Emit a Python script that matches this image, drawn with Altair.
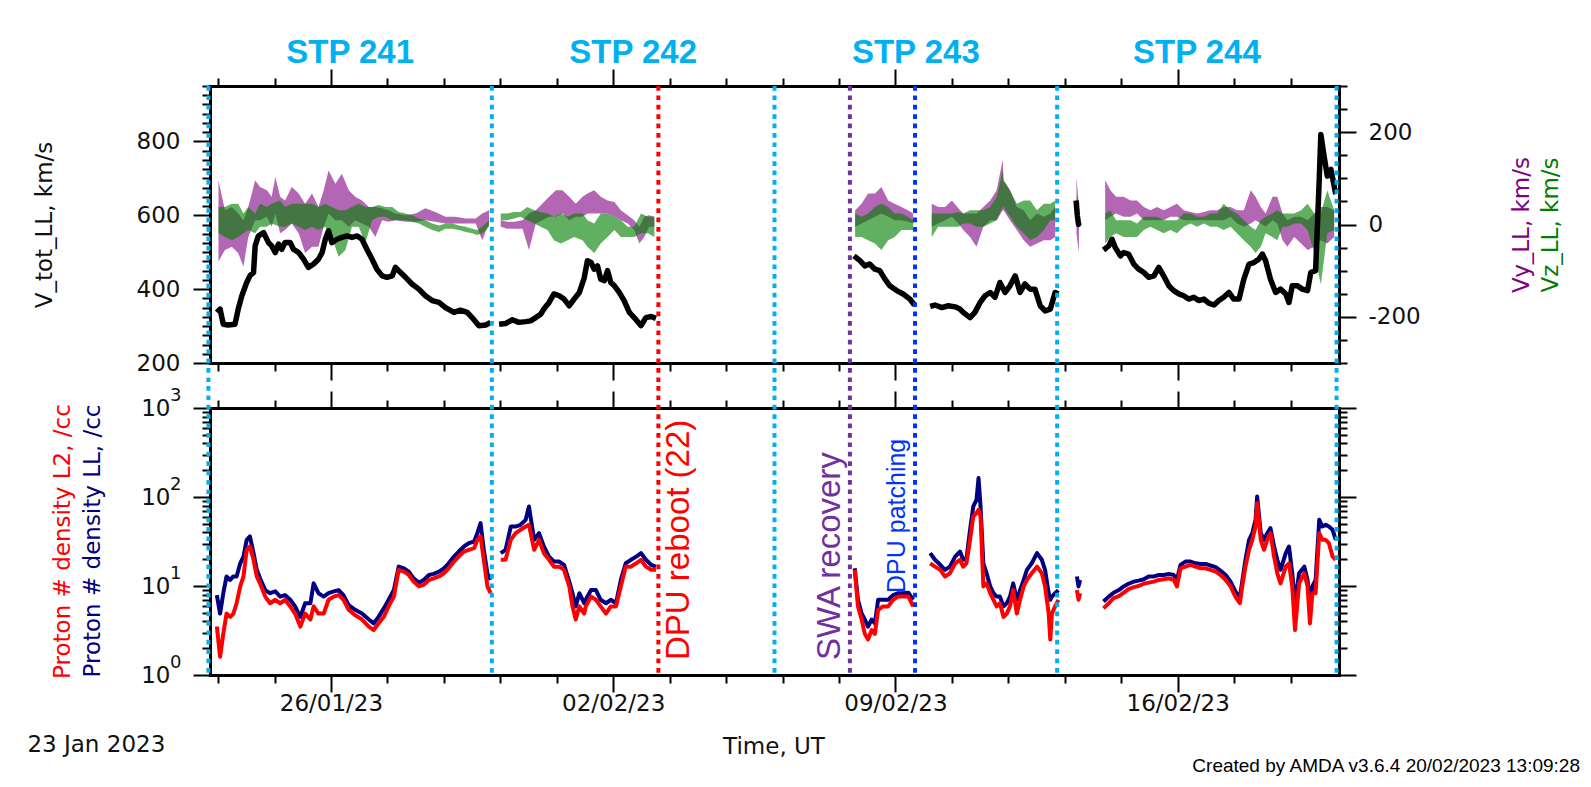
import altair as alt
import pandas as pd

# ---------------- time base ----------------
T0_MS = 1674432000000          # 2023-01-23 00:00 UT
DAY_MS = 86400000
N_DAYS = 28

# ---------------- V_tot_LL (km/s), segments of (day, value) ----------------
VTOT_A = [(0.17, 337), (0.25, 346), (0.33, 305), (0.45, 303), (0.62, 305), (0.70, 346), (0.79, 382),
          (0.91, 418), (0.99, 436), (1.08, 445), (1.12, 517), (1.20, 544), (1.33, 553), (1.45, 526),
          (1.53, 517), (1.62, 499), (1.70, 522), (1.78, 508), (1.86, 526), (1.99, 526), (2.07, 508),
          (2.20, 499), (2.32, 481), (2.44, 459), (2.57, 468), (2.69, 481), (2.78, 499), (2.86, 535),
          (2.94, 558), (3.02, 526), (3.15, 535), (3.27, 540), (3.40, 544), (3.52, 540), (3.65, 544),
          (3.77, 535), (3.89, 508), (4.02, 481), (4.14, 454), (4.27, 436), (4.39, 432), (4.52, 436),
          (4.60, 459), (4.68, 450), (4.85, 432), (5.01, 414), (5.18, 400), (5.34, 382), (5.51, 369),
          (5.68, 364), (5.84, 350), (6.05, 337), (6.21, 343), (6.38, 337), (6.50, 323), (6.67, 301),
          (6.84, 303), (6.96, 310)]
VTOT_B = [(7.17, 305), (7.33, 307), (7.50, 317), (7.66, 310), (7.83, 312), (7.95, 314), (8.08, 323),
          (8.20, 332), (8.28, 346), (8.41, 364), (8.53, 387), (8.66, 382), (8.78, 373), (8.91, 355),
          (9.03, 373), (9.16, 391), (9.28, 430), (9.36, 477), (9.45, 472), (9.53, 454), (9.61, 463),
          (9.69, 427), (9.78, 423), (9.86, 450), (9.94, 418), (10.03, 409), (10.15, 391), (10.27, 369),
          (10.40, 337), (10.52, 323), (10.69, 301), (10.81, 323), (10.94, 326), (11.06, 321)]
VTOT_C = [(15.97, 490), (16.12, 477), (16.24, 463), (16.36, 468), (16.49, 454), (16.61, 450),
          (16.74, 427), (16.86, 409), (17.03, 396), (17.19, 387), (17.36, 373), (17.47, 357)]
VTOT_D = [(17.86, 353), (17.98, 357), (18.15, 350), (18.31, 355), (18.48, 352), (18.60, 346),
          (18.68, 337), (18.85, 323), (18.97, 337), (19.10, 364), (19.22, 382), (19.35, 391),
          (19.47, 378), (19.59, 418), (19.72, 391), (19.84, 409), (19.97, 436), (20.09, 391),
          (20.21, 414), (20.34, 400), (20.46, 400), (20.59, 355), (20.71, 341), (20.84, 346),
          (20.96, 391), (21.04, 387)]
VTOT_E = [(21.48, 640), (21.51, 600), (21.54, 575), (21.56, 580)]
VTOT_F = [(22.16, 506), (22.29, 517), (22.37, 535), (22.45, 513), (22.58, 490), (22.66, 499),
          (22.78, 495), (22.91, 468), (23.03, 454), (23.16, 445), (23.28, 432), (23.41, 436),
          (23.53, 459), (23.65, 436), (23.78, 409), (23.90, 396), (24.03, 387), (24.15, 382),
          (24.27, 373), (24.40, 378), (24.52, 369), (24.65, 373), (24.77, 362), (24.90, 357),
          (25.02, 369), (25.14, 378), (25.27, 391), (25.39, 373), (25.52, 373), (25.64, 427),
          (25.77, 468), (25.89, 472), (26.01, 481), (26.10, 495), (26.18, 477), (26.30, 427),
          (26.43, 391), (26.55, 400), (26.68, 387), (26.76, 364), (26.84, 409), (26.97, 409),
          (27.09, 400), (27.22, 396), (27.30, 445), (27.42, 450), (27.51, 697), (27.55, 819),
          (27.63, 760), (27.71, 706), (27.80, 724), (27.88, 679), (27.92, 657)]
VTOT_SEGS = [VTOT_A, VTOT_B, VTOT_C, VTOT_D, VTOT_E, VTOT_F]

# ---------------- Vy_LL spread (day, low, high) km/s ----------------
VY_A = [(0.21, -80, 96), (0.37, -55, 31), (0.54, -48, 38), (0.70, -62, 24), (0.83, -91, 9), (0.95, -27, 38),
        (1.12, 9, 96), (1.24, 9, 81), (1.41, 17, 74), (1.53, -5, 60), (1.62, 24, 103), (1.74, -19, 60),
        (1.86, -12, 52), (2.03, 2, 81), (2.20, -19, 67), (2.36, -62, 45), (2.53, -48, 67), (2.69, -48, 38),
        (2.82, -5, 74), (2.94, 24, 117), (3.11, 9, 88), (3.27, 9, 110), (3.44, -5, 74), (3.60, 9, 60),
        (3.77, 2, 52), (3.94, -5, 38), (4.10, -27, 38), (4.27, 9, 35), (4.43, 6, 31), (4.60, 9, 24),
        (4.85, 6, 20), (5.10, 6, 24), (5.34, 9, 35), (5.59, 6, 27), (5.84, 2, 17), (6.09, 2, 17),
        (6.34, 2, 13), (6.59, 2, 13), (6.75, -34, 24), (6.92, 2, 31)]
VY_B = [(7.21, -5, 9), (7.37, -9, 6), (7.54, -9, 6), (7.75, -9, 9), (7.91, -55, 24), (8.08, 2, 31),
        (8.24, 9, 45), (8.41, 17, 60), (8.58, 17, 74), (8.74, 24, 74), (8.91, 9, 60), (9.07, 17, 45),
        (9.24, 17, 60), (9.36, 24, 67), (9.53, 24, 74), (9.69, 24, 60), (9.86, 24, 52), (10.03, 17, 49),
        (10.19, 9, 31), (10.36, 2, 20), (10.52, -12, 9), (10.65, -41, -5), (10.77, -27, 17),
        (10.89, -5, 20), (11.02, -5, 17)]
VY_C = [(16.00, -5, 31), (16.16, 2, 45), (16.32, 9, 67), (16.49, 17, 67), (16.65, 24, 81), (16.82, 17, 52),
        (16.98, 9, 45), (17.15, 9, 38), (17.31, 6, 31), (17.44, 2, 24)]
VY_D = [(17.90, -5, 45), (18.06, 2, 38), (18.23, 9, 38), (18.40, 17, 52), (18.56, 2, 35), (18.68, -12, 24),
        (18.85, -27, 24), (19.01, -48, 24), (19.18, -5, 38), (19.35, 9, 52), (19.51, 9, 74),
        (19.66, 31, 140), (19.68, 31, 96), (19.84, 9, 74), (20.01, -12, 38), (20.18, -34, 31),
        (20.34, -48, 9), (20.51, -41, 24), (20.68, -34, 17), (20.84, -34, 24), (20.96, -27, 38)]
VY_E = [(21.49, -20, 103), (21.55, -62, 40)]
VY_F = [(22.20, 9, 96), (22.33, 17, 74), (22.47, 24, 60), (22.66, 17, 60), (22.83, 17, 52), (22.99, 24, 52),
        (23.16, 9, 38), (23.32, 9, 31), (23.49, 9, 38), (23.65, 9, 31), (23.82, 17, 38), (23.98, 17, 45),
        (24.15, 9, 31), (24.32, 9, 27), (24.48, 9, 24), (24.65, 9, 27), (24.81, 9, 31), (24.98, 9, 31),
        (25.14, 9, 38), (25.31, 17, 38), (25.47, 2, 31), (25.64, -5, 31), (25.81, 2, 74), (25.93, 9, 60),
        (26.06, 2, 38), (26.18, -5, 24), (26.35, 9, 60), (26.47, 2, 60), (26.60, -34, 24), (26.72, -48, 9),
        (26.89, -27, 17), (27.06, -41, 17), (27.22, -55, 9), (27.39, -48, 24), (27.55, -34, 38),
        (27.71, -41, 38), (27.88, -27, 31)]
VY_SEGS = [VY_A, VY_B, VY_C, VY_D, VY_E, VY_F]

# ---------------- Vz_LL spread (day, low, high) km/s ----------------
VZ_A = [(0.21, -19, 38), (0.37, -27, 38), (0.54, -34, 45), (0.70, -27, 45), (0.83, -19, 24), (0.95, -12, 38),
        (1.12, -19, 24), (1.24, -5, 45), (1.41, -5, 38), (1.53, 2, 45), (1.74, -5, 52), (1.86, -5, 38),
        (2.03, 2, 45), (2.20, -5, 45), (2.36, -12, 45), (2.53, -5, 45), (2.69, -12, 38), (2.86, -5, 45),
        (3.02, -27, 38), (3.19, -70, 31), (3.36, -55, 31), (3.52, -5, 38), (3.69, -5, 45), (3.85, -41, 38),
        (4.02, 9, 38), (4.18, 17, 42), (4.35, 17, 38), (4.52, 9, 38), (4.68, 9, 27), (4.85, 9, 24),
        (5.01, 6, 20), (5.18, 2, 13), (5.34, -5, 9), (5.51, -12, 2), (5.68, -16, -2), (5.84, -9, 2),
        (6.01, -9, 2), (6.17, -12, -2), (6.34, -16, -5), (6.50, -19, -9), (6.63, -23, -12),
        (6.75, -19, -5), (6.92, -5, 9)]
VZ_B = [(7.21, 9, 24), (7.37, 9, 24), (7.54, 13, 27), (7.70, 17, 27), (7.87, 9, 38), (8.04, 2, 31),
        (8.20, -5, 27), (8.37, -12, 24), (8.53, -34, 17), (8.70, -41, 24), (8.87, -34, 17), (9.03, -27, 24),
        (9.24, -34, 24), (9.36, -48, 9), (9.53, -62, 2), (9.69, -41, 24), (9.86, -27, 24), (10.03, -12, 17),
        (10.19, -27, 9), (10.36, -27, -5), (10.52, -27, -5), (10.69, -19, 24), (10.86, -19, 17),
        (11.02, -27, 17)]
VZ_C = [(16.00, -27, 24), (16.16, -27, 17), (16.32, -34, 24), (16.49, -41, 38), (16.65, -55, 45),
        (16.82, -34, 38), (16.98, -27, 24), (17.15, -12, 24), (17.31, -12, 17), (17.44, -12, 9)]
VZ_D = [(17.90, -27, 24), (18.06, -5, 24), (18.23, -5, 24), (18.40, -5, 24), (18.56, -5, 27), (18.68, 2, 24),
        (18.85, 2, 31), (19.01, -5, 31), (19.18, -5, 31), (19.35, 2, 38), (19.51, 9, 60), (19.66, 38, 117),
        (19.68, 38, 96), (19.84, 17, 74), (20.01, -5, 45), (20.18, -19, 52), (20.34, -34, 52),
        (20.51, -27, 31), (20.68, -12, 45), (20.84, 9, 45), (20.96, 9, 52)]
VZ_E = [(21.49, 9, 60), (21.55, 9, 40)]
VZ_F = [(22.20, -41, 24), (22.33, -27, 31), (22.47, -19, 9), (22.66, -27, 9), (22.83, -27, 9), (22.99, -27, 2),
        (23.16, -12, 17), (23.32, -5, 17), (23.49, -12, 17), (23.65, -19, 9), (23.82, -12, 9), (23.98, -19, 9),
        (24.15, -5, 24), (24.32, 2, 24), (24.48, -5, 17), (24.65, 2, 17), (24.81, -5, 24), (24.98, -5, 24),
        (25.14, -12, 45), (25.31, -5, 31), (25.47, -19, 24), (25.64, -34, 9), (25.81, -48, -5),
        (25.93, -62, -12), (26.06, -48, 9), (26.18, -19, 17), (26.35, -27, 24), (26.47, -34, 31),
        (26.60, -5, 24), (26.72, -5, 24), (26.89, 2, 24), (27.06, 2, 31), (27.22, -12, 45), (27.39, -62, 24),
        (27.55, -130, 24), (27.71, -19, 74), (27.88, -12, 31)]
VZ_SEGS = [VZ_A, VZ_B, VZ_C, VZ_D, VZ_E, VZ_F]

# ---------------- proton density (day, L2 red, LL navy) /cc ----------------
N_A = [(0.17, 3.5, 7.9), (0.25, 1.6, 4.9), (0.33, 2.9, 8.3), (0.41, 4.9, 12.8), (0.50, 4.5, 11.7),
       (0.58, 4.9, 12.8), (0.66, 6.4, 12.8), (0.75, 9.9, 18.0), (0.83, 12.8, 21.4), (0.91, 25.5, 33.0),
       (0.99, 27.8, 36.0), (1.08, 19.7, 23.4), (1.16, 12.8, 15.2), (1.24, 10.7, 12.2), (1.37, 7.6, 9.0),
       (1.49, 6.4, 8.3), (1.62, 7.0, 8.7), (1.74, 6.4, 7.6), (1.86, 7.0, 7.9), (1.99, 5.9, 7.0),
       (2.11, 4.9, 5.9), (2.24, 3.5, 4.5), (2.36, 4.9, 6.4), (2.49, 4.2, 6.4), (2.57, 5.9, 10.7),
       (2.69, 4.9, 8.3), (2.82, 4.9, 7.6), (2.94, 7.0, 8.3), (3.07, 7.6, 8.7), (3.19, 7.9, 9.0),
       (3.31, 7.0, 7.9), (3.44, 5.4, 6.1), (3.60, 4.7, 5.4), (3.77, 4.2, 4.9), (3.94, 3.5, 4.2),
       (4.06, 3.2, 3.8), (4.18, 3.8, 4.5), (4.31, 4.5, 5.6), (4.43, 5.9, 7.0), (4.56, 7.6, 9.0),
       (4.68, 15.2, 16.5), (4.81, 14.5, 15.8), (4.93, 13.3, 14.5), (5.05, 11.2, 12.2), (5.18, 9.9, 10.9),
       (5.30, 10.3, 11.7), (5.43, 11.7, 13.3), (5.55, 12.2, 13.7), (5.68, 12.8, 14.5), (5.80, 13.9, 15.8),
       (5.92, 15.8, 18.0), (6.05, 18.8, 21.4), (6.17, 21.4, 24.4), (6.30, 24.4, 27.8), (6.42, 25.5, 30.3),
       (6.55, 26.6, 31.6), (6.63, 33.0, 39.2), (6.71, 36.0, 50.8), (6.79, 19.7, 25.5), (6.88, 9.9, 13.9),
       (6.96, 8.3, 11.7)]
N_B = [(7.21, 19.7, 23.4), (7.33, 19.7, 25.5), (7.46, 33.0, 46.6), (7.58, 39.2, 46.6), (7.70, 42.8, 48.7),
       (7.83, 46.6, 55.4), (7.91, 48.7, 78.3), (8.04, 25.5, 33.0), (8.16, 33.0, 39.2), (8.28, 23.4, 27.8),
       (8.41, 19.7, 21.4), (8.53, 16.5, 18.8), (8.66, 16.5, 18.8), (8.78, 15.2, 17.3), (8.91, 9.9, 11.2),
       (8.99, 5.9, 8.3), (9.07, 4.2, 5.9), (9.16, 5.9, 8.3), (9.28, 4.9, 6.4), (9.32, 5.9, 7.0),
       (9.45, 7.6, 9.0), (9.57, 7.0, 9.0), (9.69, 5.9, 7.0), (9.82, 4.9, 6.4), (9.94, 5.9, 7.0),
       (10.07, 5.9, 6.4), (10.19, 9.9, 11.7), (10.31, 16.5, 18.0), (10.44, 16.5, 19.7), (10.57, 18.0, 21.4),
       (10.69, 19.7, 23.4), (10.81, 16.5, 19.7), (10.94, 15.2, 17.3), (11.06, 15.2, 16.5)]
N_C = [(15.99, 15.2, 15.8), (16.07, 5.9, 7.0), (16.16, 4.2, 4.9), (16.24, 2.9, 4.2), (16.32, 2.5, 3.5),
       (16.41, 3.2, 4.2), (16.49, 2.9, 3.8), (16.57, 5.4, 7.0), (16.69, 5.9, 7.0), (16.82, 5.9, 7.0),
       (16.94, 7.0, 7.9), (17.07, 7.6, 8.3), (17.19, 7.6, 8.3), (17.32, 7.6, 8.4), (17.44, 5.9, 7.0)]
N_D = [(17.86, 18.0, 23.4), (17.98, 16.5, 19.7), (18.11, 15.2, 17.3), (18.23, 12.8, 15.2), (18.35, 13.9, 16.5),
       (18.48, 18.0, 21.4), (18.60, 19.7, 24.4), (18.68, 16.5, 19.7), (18.76, 18.0, 20.0), (18.85, 33.0, 42.8),
       (18.93, 60.4, 78.3), (19.01, 65.9, 93.0), (19.06, 71.8, 163.0), (19.11, 60.4, 78.3), (19.18, 9.9, 18.0),
       (19.26, 10.7, 13.9), (19.35, 8.3, 9.9), (19.43, 7.0, 8.3), (19.51, 5.9, 7.6), (19.59, 6.4, 7.6),
       (19.68, 4.5, 5.9), (19.76, 4.9, 6.4), (19.84, 5.9, 7.6), (19.92, 9.0, 10.7), (20.01, 4.9, 7.0),
       (20.09, 7.0, 9.0), (20.18, 9.9, 11.7), (20.26, 11.7, 15.2), (20.38, 13.9, 18.0), (20.51, 16.5, 23.4),
       (20.63, 13.9, 19.7), (20.71, 9.9, 15.2), (20.80, 4.9, 8.3), (20.84, 2.5, 7.0), (20.88, 4.9, 7.6),
       (20.96, 5.9, 8.3), (21.04, 7.0, 9.0)]
N_E = [(21.50, 9.0, 12.8), (21.54, 7.0, 9.9), (21.58, 8.3, 11.7)]
N_F = [(22.16, 5.6, 6.7), (22.29, 6.4, 7.6), (22.41, 7.3, 8.4), (22.54, 7.7, 9.0), (22.66, 8.4, 9.9),
       (22.78, 9.2, 10.6), (22.91, 9.7, 11.2), (23.03, 10.0, 11.5), (23.16, 10.6, 11.9), (23.28, 10.9, 12.8),
       (23.41, 11.2, 12.8), (23.53, 11.7, 13.3), (23.65, 11.9, 13.3), (23.78, 12.2, 13.7), (23.90, 11.7, 13.3),
       (23.98, 9.9, 11.7), (24.07, 15.8, 17.3), (24.19, 16.5, 18.8), (24.32, 17.3, 18.8), (24.44, 16.5, 18.0),
       (24.57, 15.8, 17.7), (24.69, 15.8, 17.7), (24.81, 15.2, 17.0), (24.94, 14.5, 16.3), (25.06, 13.3, 14.9),
       (25.19, 11.7, 13.3), (25.31, 9.9, 11.2), (25.43, 7.6, 8.7), (25.54, 6.4, 7.3), (25.60, 9.9, 11.2),
       (25.68, 16.5, 19.7), (25.77, 25.5, 33.0), (25.85, 33.0, 39.2), (25.93, 46.6, 55.4), (25.97, 85.3, 101.0),
       (26.06, 33.0, 39.2), (26.14, 25.5, 33.0), (26.22, 33.0, 39.2), (26.30, 39.2, 44.7), (26.39, 21.4, 27.8),
       (26.47, 13.9, 19.7), (26.55, 10.7, 15.2), (26.68, 16.5, 23.4), (26.76, 18.0, 27.8), (26.84, 9.9, 13.9),
       (26.91, 3.2, 6.4), (27.01, 10.7, 13.9), (27.14, 13.9, 16.5), (27.22, 9.9, 11.7), (27.28, 3.8, 6.4),
       (27.34, 8.3, 9.9), (27.42, 8.3, 11.7), (27.51, 39.2, 55.4), (27.59, 33.0, 46.6), (27.67, 33.0, 48.7),
       (27.75, 30.3, 46.6), (27.84, 21.4, 42.8), (27.92, 19.7, 33.0)]
N_SEGS = [N_A, N_B, N_C, N_D, N_E, N_F]

# ---------------- events / periods ----------------
STP_BOUNDS = [-0.04, 6.99, 14.0, 21.01, 27.94]
STP_LABELS = ["STP 241", "STP 242", "STP 243", "STP 244"]
EVENT_DAYS = [11.12, 15.87, 17.485]
EVENT_LABELS = ["DPU reboot (22)", "SWA recovery", "DPU patching"]

# ---------------- tick values ----------------
X_TICK_DAYS = [0.2, 1.6, 3.0, 4.4, 5.8, 7.2, 8.6, 10.0, 11.4, 12.8, 14.2, 15.6, 17.0,
               18.4, 19.8, 21.2, 22.6, 24.0, 25.4, 26.8]
V_TICKS = list(range(200, 951, 25))
VY_TICKS = list(range(-300, 301, 50))
N_TICKS = [1, 2, 3, 4, 5, 6, 7, 8, 9, 10, 20, 30, 40, 50, 60, 70, 80, 90,
           100, 200, 300, 400, 500, 600, 700, 800, 900, 1000]
N_MAJOR = [1, 10, 100, 1000]
N_EXPONENT = ["0", "1", "2", "3"]

# ---------------- styles ----------------
CYAN = "#00B0F0"
EVENT_COLORS = ["#FF0000", "#7030A0", "#0033FF"]
VY_COLOR = "#800080"
VZ_COLOR = "#008000"
NAVY = "#000080"
RED = "#FF0000"
INK = "#111111"
FONT = "DejaVu Sans"
W, H1, H2 = 1129, 277, 267


def to_ms(d):
    return T0_MS + d * DAY_MS


def seg_frame(segs, cols):
    rows = []
    for k, seg in enumerate(segs):
        for rec in seg:
            row = dict(zip(cols, rec))
            row["seg"] = k
            rows.append(row)
    df = pd.DataFrame(rows)
    df["t"] = to_ms(df["day"])
    return df


vtot_df = seg_frame(VTOT_SEGS, ["day", "v"])
vy_df = seg_frame(VY_SEGS, ["day", "lo", "hi"])
vz_df = seg_frame(VZ_SEGS, ["day", "lo", "hi"])
n_df = seg_frame(N_SEGS, ["day", "l2", "ll"])

rule_df = pd.DataFrame({"day": STP_BOUNDS + EVENT_DAYS,
                        "col": [CYAN] * len(STP_BOUNDS) + EVENT_COLORS})
rule_df["t"] = to_ms(rule_df["day"])

stp_df = pd.DataFrame({"day": [(a + b) / 2 for a, b in zip(STP_BOUNDS[:-1], STP_BOUNDS[1:])],
                       "label": STP_LABELS})
stp_df["t"] = to_ms(stp_df["day"])

ev_df = pd.DataFrame({"day": EVENT_DAYS, "label": EVENT_LABELS, "col": EVENT_COLORS})
ev_df["t"] = to_ms(ev_df["day"])

exp_df = pd.DataFrame({"v": N_MAJOR, "e": N_EXPONENT})

# ---------------- scales & axes ----------------
XS = alt.Scale(type="utc", domain=[T0_MS, T0_MS + N_DAYS * DAY_MS], nice=False)
VS = alt.Scale(domain=[200, 950], nice=False, zero=False)
VYS = alt.Scale(domain=[-300, 300], nice=False, zero=False)
NS = alt.Scale(type="log", domain=[1, 1000], nice=False)

x_tick_ms = [int(round(to_ms(d))) for d in X_TICK_DAYS]
MAJ_X = "utchours(datum.value) == 0"
MAJ_V = "datum.value % 200 == 0"
MAJ_N = "abs(log(datum.value)/LN10 - round(log(datum.value)/LN10)) < 0.001"


def tick_size(test):
    return {"condition": {"test": test, "value": 17}, "value": 8}


def x_axis(orient, labels=False):
    kw = dict(orient=orient, values=x_tick_ms, tickSize=tick_size(MAJ_X), title=None,
              labelFlush=False, labelOverlap=False)
    if labels:
        kw.update(labels=True, labelPadding=0,
                  labelExpr=MAJ_X + " ? utcFormat(datum.value, '%d/%m/%y') : ''")
    else:
        kw.update(labels=False)
    return alt.Axis(**kw)


V_AXIS = alt.Axis(orient="left", values=V_TICKS, tickSize=tick_size(MAJ_V), title=None,
                  labelExpr=MAJ_V + " ? '' + datum.value : ''", labelPadding=13,
                  labelOverlap=False, labelFlush=False)
VY_AXIS = alt.Axis(orient="right", values=VY_TICKS, tickSize=tick_size(MAJ_V), title=None,
                   labelExpr=MAJ_V + " ? '' + datum.value : ''", labelPadding=12,
                   labelOverlap=False, labelFlush=False)
N_AXIS_L = alt.Axis(orient="left", values=N_TICKS, tickSize=tick_size(MAJ_N), title=None,
                    labelExpr=MAJ_N + " ? '10' : ''", labelPadding=23,
                    labelOverlap=False, labelFlush=False)
N_AXIS_R = alt.Axis(orient="right", values=N_TICKS, tickSize=tick_size(MAJ_N), title=None,
                    labels=False)

ONE = pd.DataFrame({"a": [0]})


def free_text(txt, color, x, y, size=23, angle=0, align="center", baseline="middle",
              font=FONT, weight="normal"):
    return alt.Chart(ONE).mark_text(text=txt, color=color, fontSize=size, angle=angle,
                                    align=align, baseline=baseline, font=font,
                                    fontWeight=weight).encode(x=alt.value(x), y=alt.value(y))


# ---------------- top panel ----------------
vy_area = alt.Chart(vy_df).mark_area(color=VY_COLOR, opacity=0.6).encode(
    x=alt.X("t:T", scale=XS, axis=x_axis("top")),
    y=alt.Y("lo:Q", scale=VYS, axis=VY_AXIS),
    y2="hi:Q",
    detail="seg:N",
)
vz_area = alt.Chart(vz_df).mark_area(color=VZ_COLOR, opacity=0.62).encode(
    x=alt.X("t:T", scale=XS, axis=None),
    y=alt.Y("lo:Q", scale=VYS, axis=None),
    y2="hi:Q",
    detail="seg:N",
)
vtot_line = alt.Chart(vtot_df).mark_line(color="black", strokeWidth=5.5, strokeJoin="round").encode(
    x=alt.X("t:T", scale=XS, axis=x_axis("bottom")),
    y=alt.Y("v:Q", scale=VS, axis=V_AXIS),
    detail="seg:N",
)
rules_top = alt.Chart(rule_df).mark_rule(strokeWidth=4, strokeDash=[4.7, 4.7]).encode(
    x=alt.X("t:T", scale=XS, axis=None),
    y=alt.value(0), y2=alt.value(H1 + 23),
    color=alt.Color("col:N", scale=None),
)
stp_text = alt.Chart(stp_df).mark_text(font="Liberation Sans", fontSize=33, fontWeight="bold",
                                       color=CYAN, baseline="alphabetic", align="center").encode(
    x=alt.X("t:T", scale=XS, axis=None), y=alt.value(-23), text="label:N")

top = alt.layer(
    vy_area, vz_area, vtot_line, rules_top, stp_text,
    free_text("V_tot_LL, km/s", INK, -165, 139, angle=270),
    free_text("Vy_LL, km/s", VY_COLOR, 1312, 139, angle=270),
    free_text("Vz_LL, km/s", VZ_COLOR, 1341, 139, angle=270),
).resolve_scale(x="independent", y="independent").properties(width=W, height=H1)

# ---------------- bottom panel ----------------
navy_line = alt.Chart(n_df).mark_line(color=NAVY, strokeWidth=4, strokeJoin="round").encode(
    x=alt.X("t:T", scale=XS, axis=x_axis("top")),
    y=alt.Y("ll:Q", scale=NS, axis=N_AXIS_L),
    detail="seg:N",
)
red_line = alt.Chart(n_df).mark_line(color=RED, strokeWidth=4, strokeJoin="round").encode(
    x=alt.X("t:T", scale=XS, axis=x_axis("bottom", labels=True)),
    y=alt.Y("l2:Q", scale=NS, axis=N_AXIS_R),
    detail="seg:N",
)
exp_text = alt.Chart(exp_df).mark_text(font=FONT, fontSize=18, color=INK, align="left",
                                       baseline="middle", dy=-12).encode(
    x=alt.value(-40), y=alt.Y("v:Q", scale=NS, axis=None), text="e:N")
rules_bot = alt.Chart(rule_df).mark_rule(strokeWidth=4, strokeDash=[4.7, 4.7]).encode(
    x=alt.X("t:T", scale=XS, axis=None),
    y=alt.value(-22), y2=alt.value(H2),
    color=alt.Color("col:N", scale=None),
)


def event_text(i, size, dy, ybottom):
    return alt.Chart(ev_df.iloc[[i]]).mark_text(
        font="Liberation Sans", fontSize=size, angle=270, align="left", baseline="alphabetic",
        color=EVENT_COLORS[i], dy=dy).encode(
        x=alt.X("t:T", scale=XS, axis=None), y=alt.value(ybottom), text="label:N")


bottom = alt.layer(
    navy_line, red_line, exp_text, rules_bot,
    event_text(0, 33, 31, 252),
    event_text(1, 33, -10, 252),
    event_text(2, 25, -10, 185),
    free_text("Proton # density L2, /cc", RED, -147, 133.5, angle=270),
    free_text("Proton # density LL, /cc", NAVY, -117, 133, angle=270),
    free_text("23 Jan 2023", INK, -182.6, 344, align="left", baseline="alphabetic"),
    free_text("Time, UT", INK, 564, 346, baseline="alphabetic"),
    free_text("Created by AMDA v3.6.4 20/02/2023 13:09:28", "black", 1370, 364, size=19,
              align="right", baseline="alphabetic", font="Liberation Sans"),
).resolve_scale(x="independent", y="independent").properties(width=W, height=H2)

chart = alt.VConcatChart(vconcat=[top, bottom], spacing=45, bounds="flush").properties(
    padding={"left": 19, "top": 29, "right": 0, "bottom": 0}
).configure_view(stroke=None).configure_axis(
    domainColor="black", domainWidth=3, domainCap="square", tickColor="black", tickWidth=2,
    labelFont=FONT, labelFontSize=23, labelColor=INK, grid=False,
)

chart.save("out.html", embed_options={"renderer": "svg", "actions": False})
